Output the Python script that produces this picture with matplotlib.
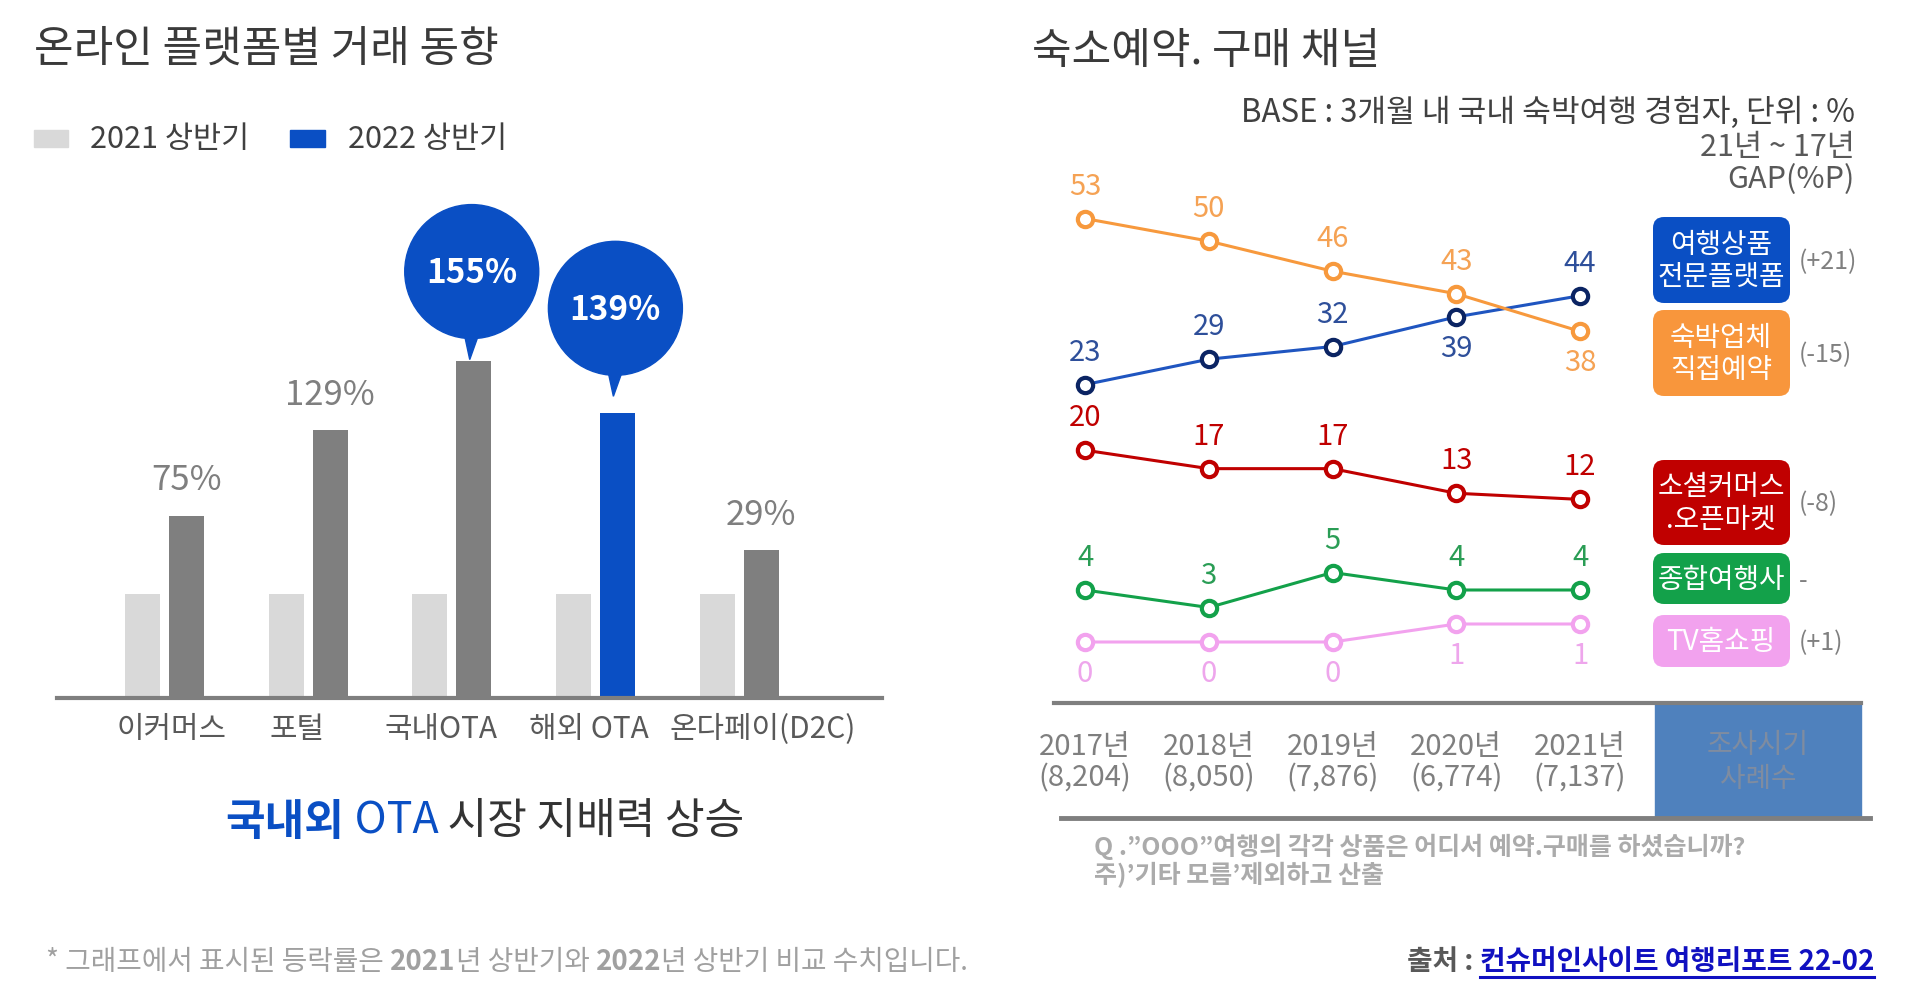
import matplotlib
matplotlib.use("Agg")
import matplotlib.pyplot as plt
import numpy as np
from matplotlib import patches
from matplotlib import transforms as mtransforms
from matplotlib.lines import Line2D

plt.rcParams["font.family"] = ["Noto Sans CJK KR", "DejaVu Sans"]

# ---- left chart: 온라인 플랫폼별 거래 동향 ----
platforms = ["이커머스", "포털", "국내OTA", "해외 OTA", "온다페이(D2C)"]
index_2021 = [100, 100, 100, 100, 100]
index_2022 = [176, 259, 326, 275, 143]
growth = ["75%", "129%", "155%", "139%", "29%"]
bubble_idx = [2, 3]
highlight_idx = 3

# ---- right chart: 숙소예약. 구매 채널 ----
years = ["2017년", "2018년", "2019년", "2020년", "2021년"]
sample_n = ["(8,204)", "(8,050)", "(7,876)", "(6,774)", "(7,137)"]
platform_share = [23, 29, 32, 39, 44]
direct_share = [53, 50, 46, 43, 38]
social_share = [20, 17, 17, 13, 12]
agency_share = [4, 3, 5, 4, 4]
tv_share = [0, 0, 0, 1, 1]
channels = ["여행상품\n전문플랫폼", "숙박업체\n직접예약", "소셜커머스\n.오픈마켓", "종합여행사", "TV홈쇼핑"]
gaps = ["(+21)", "(-15)", "(-8)", "-", "(+1)"]

W, H = 1917, 998
BLUE = "#0a4fc4"
fig = plt.figure(figsize=(W / 100, H / 100), dpi=100)
fig.patch.set_facecolor("white")
renderer = fig.canvas.get_renderer()
PX = mtransforms.IdentityTransform()


def fx(x):
    return x / W


def fy(y):
    return 1 - y / H


def put(x, y, s, size, color, ha="left", va="center", weight="normal", **kw):
    return fig.text(fx(x), fy(y), s, fontsize=size, color=color, ha=ha, va=va,
                    fontweight=weight, **kw)


def put_runs(x, y, runs, size, ha="left"):
    items = []
    cur = x
    for s, color, weight in runs:
        t = put(cur, y, s, size, color, weight=weight)
        cur += t.get_window_extent(renderer).width
        items.append(t)
    if ha != "left":
        shift = (cur - x) if ha == "right" else (cur - x) / 2
        for t in items:
            px, py = t.get_position()
            t.set_position((px - shift / W, py))
    return items


# titles
put(34, 50, "온라인 플랫폼별 거래 동향", 31, "#3a3a3a")
put(1032, 52, "숙소예약. 구매 채널", 31, "#3a3a3a")

# legend
fig.add_artist(patches.Rectangle((34, H - 147), 34, 17, transform=PX, color="#d9d9d9"))
put(90, 139, "2021 상반기", 22, "#404040", weight="light")
fig.add_artist(patches.Rectangle((290, H - 147), 35, 17, transform=PX, color=BLUE))
put(348, 139, "2022 상반기", 22, "#404040", weight="light")

# bars
ax = fig.add_axes([fx(57), fy(697.7), (882 - 57) / W, 351.6 / H])
ax.set_facecolor("none")
x = np.arange(len(platforms))
ax.bar(x - 0.153, index_2021, width=0.244, color="#d9d9d9")
dark = [BLUE if i == highlight_idx else "#7f7f7f" for i in x]
ax.bar(x + 0.153, index_2022, width=0.244, color=dark)
ax.set_xlim(-0.748, 4.995)
ax.set_ylim(0, 340)
for side in ["top", "left", "right"]:
    ax.spines[side].set_visible(False)
ax.spines["bottom"].set_color("#7f7f7f")
ax.spines["bottom"].set_linewidth(3)
ax.set_yticks([])
ax.set_xticks(x, platforms)
ax.tick_params(axis="x", length=0, pad=12, labelsize=21.5, labelcolor="#595959")
# the labels sit a little off the group centres in the original
label_shift = [7, -11, -11, -7, 24]
for lab, dx in zip(ax.get_xticklabels(), label_shift):
    lab.set_fontweight("light")
    lab.set_transform(lab.get_transform() + mtransforms.ScaledTranslation(dx / 100, 0, fig.dpi_scale_trans))

bubble_gap = {2: 1, 3: 17}
for i in x:
    if i in bubble_idx:
        bx, by = ax.transData.transform((i + 0.153, index_2022[i]))
        tip = by + bubble_gap[i]
        cy = tip + 88
        fig.add_artist(patches.Circle((bx - 2, cy), 67, transform=PX, color=BLUE))
        fig.add_artist(patches.Polygon([(bx - 10, cy - 60), (bx + 6, cy - 60), (bx - 4, tip)],
                                       closed=True, transform=PX, color=BLUE))
        fig.text(bx - 2, cy - 2, growth[i], transform=PX, ha="center", va="center",
                 fontsize=24, color="white", fontweight="bold")
    else:
        ax.annotate(growth[i], (i + 0.153, index_2022[i]), xytext=(0, 25),
                    textcoords="offset points", ha="center", va="center",
                    fontsize=25, color="#7f7f7f", fontweight="light")

put_runs(485, 822, [("국내외", BLUE, "bold"), (" OTA", BLUE, "light"),
                    (" 시장 지배력 상승", "#333333", "normal")], 31, ha="center")

put_runs(46, 962, [("* 그래프에서 표시된 등락률은 ", "#a0a0a0", "normal"),
                   ("2021", "#a0a0a0", "bold"),
                   ("년 상반기와 ", "#a0a0a0", "normal"),
                   ("2022", "#a0a0a0", "bold"),
                   ("년 상반기 비교 수치입니다.", "#a0a0a0", "normal")], 20)

# ---- right chart ----
put(1855, 113, "BASE : 3개월 내 국내 숙박여행 경험자, 단위 : %", 22.5, "#404040", ha="right", weight="light")
put(1855, 148, "21년 ~ 17년", 22, "#595959", ha="right", weight="light")
put(1855, 180, "GAP(%P)", 22, "#595959", ha="right", weight="light")


def line_axes(ylim, top, bottom):
    a = fig.add_axes([fx(1035.5), fy(bottom), 594 / W, (bottom - top) / H])
    a.set_xlim(-0.4, 4.4)
    a.set_ylim(*ylim)
    a.axis("off")
    return a


# each channel was laid out on its own band, so each gets its own y scale
series = [
    (platform_share, line_axes((20, 48), 278.8, 397.3), "#1f55c0", "#0b2463", "#2e4f9a", [1, 1, 1, -1, 1]),
    (direct_share, line_axes((35, 56), 196.0, 353.9), "#f7993d", "#f7993d", "#f5a254", [1, 1, 1, 1, -1]),
    (social_share, line_axes((10, 22), 437.9, 511.7), "#c00000", "#c00000", "#c00000", [1, 1, 1, 1, 1]),
    (tv_share, line_axes((-1, 2), 606.0, 660.0), "#f2a2ee", "#f2a2ee", "#eea6ec", [-1, -1, -1, -1, -1]),
    (agency_share, line_axes((2, 6), 555.0, 625.0), "#13a14a", "#13a14a", "#2a9d55", [1, 1, 1, 1, 1]),
]
xi = np.arange(len(years))
for vals, a, lc, mec, tc, sides in series:
    a.plot(xi, vals, color=lc, lw=2.2, marker="o", ms=11, mfc="white", mec=mec,
           mew=3, clip_on=False)
    for i, v in enumerate(vals):
        a.annotate(str(v), (i, v), xytext=(0, 23 * sides[i]), textcoords="offset points",
                   ha="center", va="center", fontsize=21, color=tc, fontweight="light",
                   annotation_clip=False)

box_colors = [BLUE, "#f8963c", "#c00000", "#13a14a", "#f2a2ee"]
box_top = [217, 310, 460, 553, 615]
box_bottom = [303, 396, 545, 604, 667]
for name, gap, col, t, b in zip(channels, gaps, box_colors, box_top, box_bottom):
    fig.add_artist(patches.FancyBboxPatch((1653, H - b), 137, b - t,
                                          boxstyle="round,pad=0,rounding_size=11",
                                          transform=PX, fc=col, ec="none"))
    put(1721, (t + b) / 2 + 1, name, 20, "white", ha="center", weight="medium",
        linespacing=1.1)
    put(1799, (t + b) / 2 + 2, gap, 18, "#808080", weight="light")

# table area below the line chart
fig.add_artist(patches.Rectangle((1655, H - 818), 206, 116, transform=PX, color="#4f81bd"))
fig.add_artist(Line2D([1054, 1861], [H - 703, H - 703], transform=PX, color="#7f7f7f", lw=3))
fig.add_artist(Line2D([1061, 1870], [H - 818, H - 818], transform=PX, color="#7f7f7f", lw=3.5))
put(1758, 762, "조사시기\n사례수", 20, "#7f8ca0", ha="center", linespacing=1.2)
yr_trans = mtransforms.blended_transform_factory(series[0][1].transData, fig.transFigure)
for i in xi:
    fig.text(i, fy(747), years[i], transform=yr_trans, ha="center", va="center",
             fontsize=21, color="#7f7f7f", fontweight="light")
    fig.text(i, fy(778), sample_n[i], transform=yr_trans, ha="center", va="center",
             fontsize=21, color="#7f7f7f", fontweight="light")

put(1094, 847, "Q .”OOO”여행의 각각 상품은 어디서 예약.구매를 하셨습니까?", 18, "#ababab", weight="bold")
put(1094, 875, "주)’기타 모름’제외하고 산출", 18, "#ababab", weight="bold")

src = put_runs(1874, 962, [("출처 : ", "#595959", "bold"),
                           ("컨슈머인사이트 여행리포트 22-02", "#1010c0", "bold")], 20, ha="right")
bb = src[1].get_window_extent(renderer)
fig.add_artist(Line2D([bb.x0, bb.x1], [H - 977, H - 977], transform=PX, color="#1010c0", lw=2.2))

fig.savefig("out.png", dpi=100, facecolor="white")
